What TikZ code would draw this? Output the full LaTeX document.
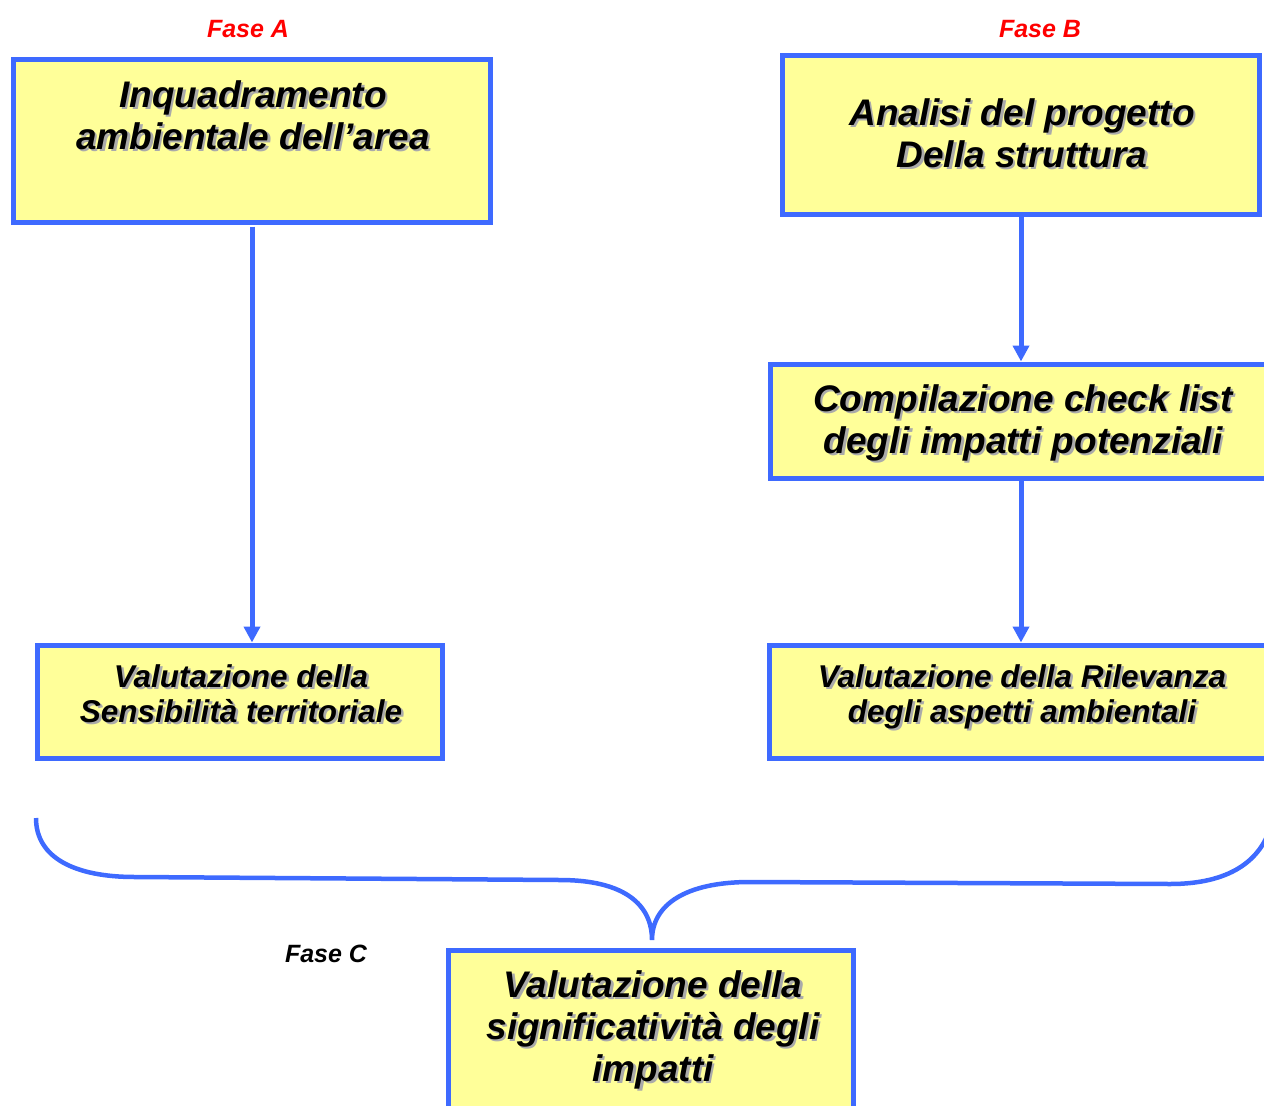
\documentclass[tikz,border=0pt]{standalone}
\usepackage{fontspec}
\setmainfont{Liberation Sans}
\usetikzlibrary{arrows.meta}
\definecolor{bline}{RGB}{62,106,255}
\definecolor{byel}{RGB}{255,255,153}
\definecolor{shgray}{RGB}{170,170,170}
\definecolor{fred}{RGB}{255,0,0}
\newcommand\shd[1]{\makebox[0pt][l]{\kern2.5pt\raisebox{-2.5pt}{\textcolor{shgray}{#1}}}#1}
\begin{document}
\begin{tikzpicture}[x=1pt,y=-1pt,
  box/.style={draw=bline,fill=byel,line width=5pt,inner sep=0pt,outer sep=0pt},
  big/.style={font=\fontsize{37}{42}\selectfont\bfseries\itshape,inner sep=0pt,anchor=base},
  mid/.style={font=\fontsize{31.5}{37}\selectfont\bfseries\itshape,inner sep=0pt,anchor=base},
  fase/.style={font=\fontsize{25}{30}\selectfont\bfseries\itshape,inner sep=0pt,anchor=base},
  arr/.style={draw=bline,line width=5pt,shorten >=3pt,-{Triangle[width=16pt,length=16pt]}},
  brace/.style={draw=bline,line width=4.5pt}]
\useasboundingbox (0,0) rectangle (1264,1106);
\clip (0,0) rectangle (1264,1106);
% boxes
\node[box,minimum width=477pt,minimum height=163pt] (A) at (252,141) {};
\node[box,minimum width=477pt,minimum height=159pt] (B) at (1021,134.5) {};
\node[box,minimum width=504pt,minimum height=114pt] (CL) at (1022,421.5) {};
\node[box,minimum width=505pt,minimum height=113pt] (R) at (1021.5,702) {};
\node[box,minimum width=405pt,minimum height=113pt] (S) at (240,702) {};
\node[box,minimum width=405pt,minimum height=197pt] (C) at (651,1049) {};
% phase labels
\node[fase,text=fred] (fa) at (248,37) {Fase A};
\node[fase,text=fred] (fb) at (1040,37) {Fase B};
\node[fase] (fc) at (326,962) {Fase C};
% texts
\node[big] (a1) at (253,107) {\shd{Inquadramento}};
\node[big] (a2) at (253,149) {\shd{ambientale dell’area}};
\node[big] (b1) at (1022,125) {\shd{Analisi del progetto}};
\node[big] (b2) at (1022,167) {\shd{Della struttura}};
\node[big] (c1) at (1023,411) {\shd{Compilazione check list}};
\node[big] (c2) at (1023,453) {\shd{degli impatti potenziali}};
\node[mid] (r1) at (1022,687) {\shd{Valutazione della Rilevanza}};
\node[mid] (r2) at (1022,722) {\shd{degli aspetti ambientali}};
\node[mid] (s1) at (241,687) {\shd{Valutazione della}};
\node[mid] (s2) at (241,722) {\shd{Sensibilità territoriale}};
\node[big] (d1) at (653,997) {\shd{Valutazione della}};
\node[big] (d2) at (653,1039) {\shd{significatività degli}};
\node[big] (d3) at (653,1081) {\shd{impatti}};
% connectors
\draw[arr] ([yshift=-4pt]A.south) -- (A.south |- S.north);
\draw[arr] (B.south) -- (B.south |- CL.north);
\draw[arr] (B.south |- CL.south) -- (B.south |- R.north);
% brace
\coordinate (tip) at (652,940);
\draw[brace] (36,818) .. controls (36,858) and (75,877) .. (135,877)
  -- (560,880) .. controls (625,880) and (652,905) .. (tip)
  .. controls (652,905) and (685,882) .. (750,882)
  -- (1170,884) .. controls (1228,884) and (1262,862) .. (1272,822);
\end{tikzpicture}
\end{document}
